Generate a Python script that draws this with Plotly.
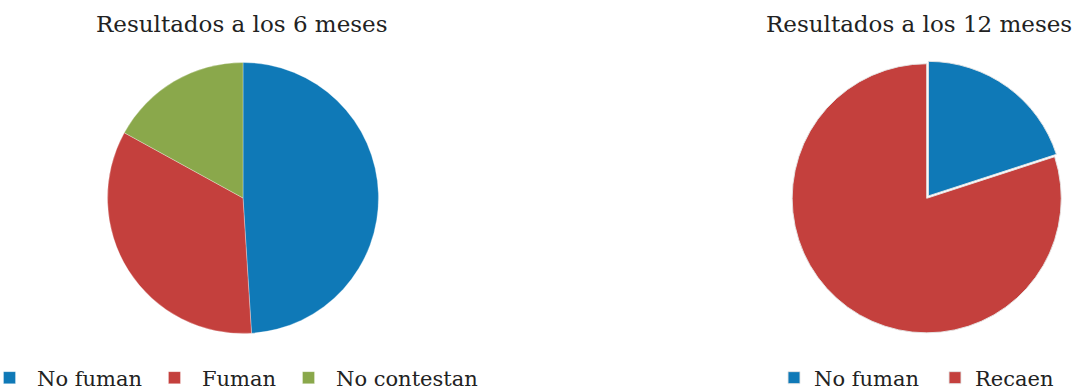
import plotly.graph_objects as go

labels_6 = ["No fuman", "Fuman", "No contestan"]
values_6 = [49, 34, 17]
colors_6 = ["#0f79b7", "#c4403d", "#8aa84b"]

labels_12 = ["No fuman", "Recaen"]
values_12 = [20, 80]
colors_12 = ["#0f79b7", "#c4403d"]

titles = ["Resultados a los 6 meses", "Resultados a los 12 meses"]

W, H = 1074, 390
FONT = "DejaVu Serif"

fig = go.Figure()
fig.add_trace(go.Pie(
    labels=labels_6, values=values_6, sort=False, direction="clockwise", rotation=0,
    marker=dict(colors=colors_6, line=dict(color="rgba(255,255,255,0.6)", width=0.5)),
    textinfo="none", hoverinfo="label+value",
    domain=dict(x=[107.5 / W, 378.5 / W], y=[(H - 333.5) / H, (H - 62.5) / H]),
    legend="legend", legendgroup="m6",
))
fig.add_trace(go.Pie(
    labels=labels_12, values=values_12, sort=False, direction="clockwise", rotation=0,
    pull=[0.022, 0],
    marker=dict(colors=colors_12, line=dict(color="rgba(230,230,230,0.9)", width=1)),
    textinfo="none", hoverinfo="label+value",
    domain=dict(x=[789.2 / W, 1064.2 / W], y=[(H - 335.8) / H, (H - 60.8) / H]),
    legend="legend2", legendgroup="m12",
))

for t, xc in zip(titles, [241, 919]):
    fig.add_annotation(text=t, x=xc / W, y=1 - 24 / H, xref="paper", yref="paper",
                       showarrow=False, xanchor="center", yanchor="middle",
                       font=dict(family=FONT, size=23, color="#222222"))

legend_common = dict(orientation="h", xanchor="left", yanchor="middle", traceorder="normal",
                     font=dict(family=FONT, size=21, color="#222222"),
                     bgcolor="rgba(0,0,0,0)", borderwidth=0, tracegroupgap=0)
fig.update_layout(
    width=W, height=H,
    margin=dict(l=0, r=0, t=0, b=0, autoexpand=False),
    paper_bgcolor="white", plot_bgcolor="white",
    showlegend=True,
    legend=dict(x=-18 / W, y=12 / H, itemwidth=45, **legend_common),
    legend2=dict(x=774 / W, y=12 / H, entrywidth=116, entrywidthmode="pixels", **legend_common),
)

fig.write_html("out.html")
